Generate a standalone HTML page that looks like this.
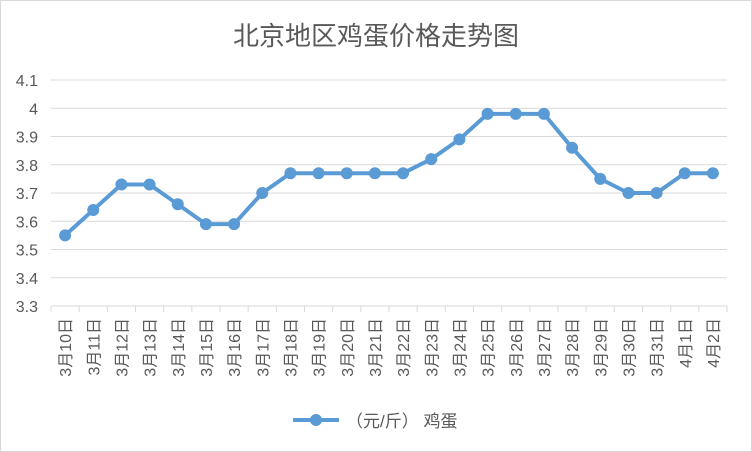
<!DOCTYPE html>
<html><head><meta charset="utf-8"><style>
body{margin:0;background:#fff}
svg{display:block;font-family:"Liberation Sans","Noto Sans CJK SC",sans-serif}
</style></head><body>
<svg id="c" width="752" height="452">
<rect x="0.5" y="0.5" width="751" height="451" fill="#fff" stroke="#d9d9d9"/>
<text x="376" y="45" text-anchor="middle" font-size="26" fill="#595959">北京地区鸡蛋价格走势图</text>
<g id="grid"></g><g id="yl"></g><g id="xl"></g><g id="ser"></g>
<g>
<line x1="293" y1="420" x2="339" y2="420" stroke="#5b9bd5" stroke-width="4"/>
<circle cx="316" cy="420" r="6" fill="#5b9bd5"/>
<text x="346" y="427" font-size="17" fill="#595959">（元/斤） 鸡蛋</text>
</g>
</svg>
<script>
const categories=["3月10日","3月11日","3月12日","3月13日","3月14日","3月15日","3月16日","3月17日","3月18日","3月19日","3月20日","3月21日","3月22日","3月23日","3月24日","3月25日","3月26日","3月27日","3月28日","3月29日","3月30日","3月31日","4月1日","4月2日"];
const prices=[3.55,3.64,3.73,3.73,3.66,3.59,3.59,3.70,3.77,3.77,3.77,3.77,3.77,3.82,3.89,3.98,3.98,3.98,3.86,3.75,3.70,3.70,3.77,3.77];
const yTicks=[3.3,3.4,3.5,3.6,3.7,3.8,3.9,4,4.1];
const NS="http://www.w3.org/2000/svg";
const L=51,R=727,T=80,B=306,yMin=3.3,yMax=4.1;
const step=(R-L)/categories.length;
const xs=i=>L+step*(i+0.5);
const ys=v=>B-(v-yMin)/(yMax-yMin)*(B-T);
function mk(t,a,p){const e=document.createElementNS(NS,t);for(const k in a)e.setAttribute(k,a[k]);p.appendChild(e);return e;}
const grid=document.getElementById('grid'),yl=document.getElementById('yl'),xl=document.getElementById('xl'),ser=document.getElementById('ser');
yTicks.forEach(v=>{
 const y=ys(v);
 if(v!==yMin){const g=mk('line',{x1:L,x2:R,y1:y,y2:y,stroke:'#d9d9d9','stroke-width':1},grid);
 
 }
 const t=mk('text',{x:38,y:y+6,'text-anchor':'end','font-size':16,fill:'#595959'},yl);
 t.textContent=String(v);
 
 
});
const ax=mk('line',{x1:L,x2:R,y1:B,y2:B,stroke:'#d9d9d9','stroke-width':1},grid);


for(let i=0;i<=categories.length;i++){const x=L+step*i;const tk=mk('line',{x1:x,x2:x,y1:B,y2:B+6,stroke:'#d9d9d9'},grid);

}
categories.forEach((c,i)=>{
 const x=xs(i)+6;
 const t=mk('text',{x:0,y:0,'text-anchor':'end','font-size':16,fill:'#595959',transform:`translate(${x},${B+12}) rotate(-90)`},xl);
 t.textContent=c;
 
 
});
const pts=prices.map((v,i)=>xs(i)+','+ys(v)).join(' ');
const pl=mk('polyline',{points:pts,fill:'none',stroke:'#5b9bd5','stroke-width':4,'stroke-linejoin':'round'},ser);


prices.forEach((v,i)=>{
 const c=mk('circle',{cx:xs(i),cy:ys(v),r:6,fill:'#5b9bd5'},ser);
 
 
});
</script>
</body></html>
